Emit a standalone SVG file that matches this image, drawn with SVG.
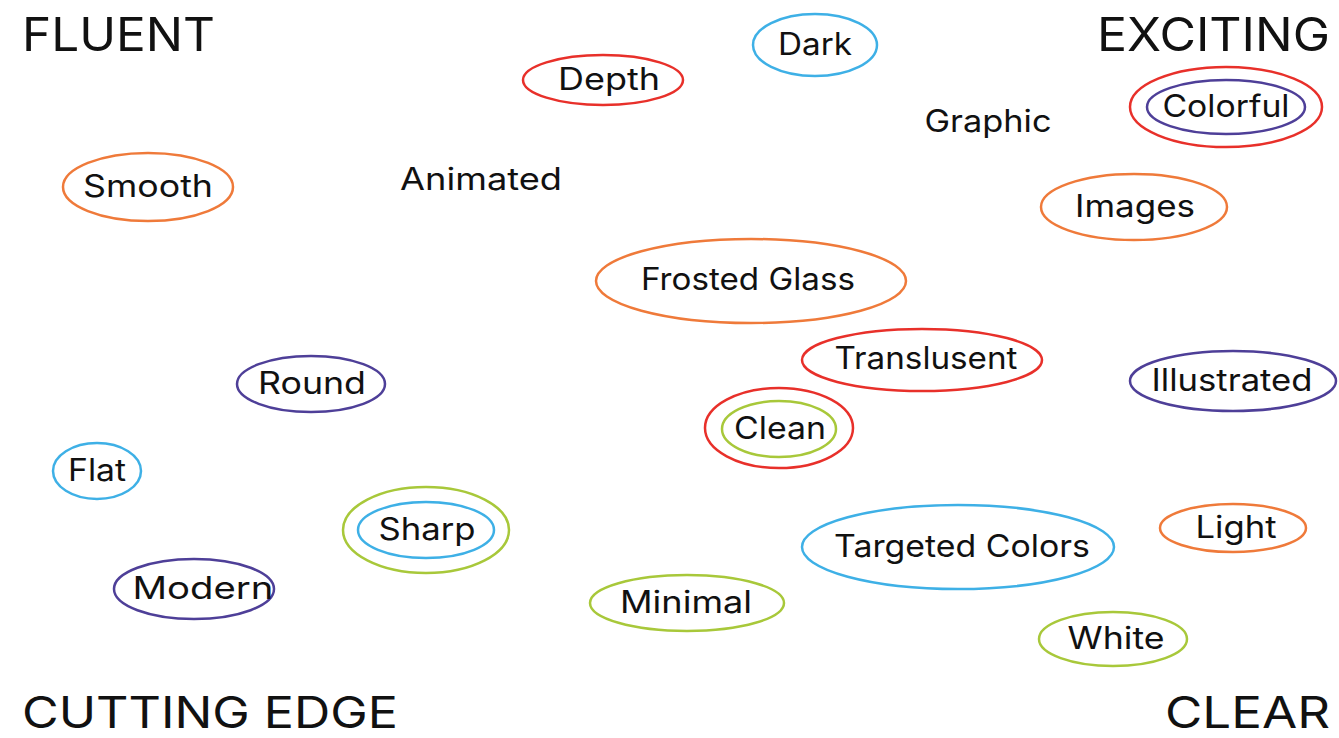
<svg xmlns="http://www.w3.org/2000/svg" width="1339" height="738" viewBox="0 0 1339 738">
<style>
text{font-family:Inter,"DejaVu Sans",sans-serif;fill:#111;}
.l{font-size:31px;text-anchor:middle;}
.c{font-size:47px;}
.cb{font-size:44px;}
ellipse{fill:none;stroke-width:2.5;}
.r{stroke:#e8302a;}.b{stroke:#3eb0e6;}.o{stroke:#ef7a3a;}.p{stroke:#4e3f98;}.g{stroke:#a8c83a;}
</style>
<rect width="1339" height="738" fill="#fff"/>
<g id="corners">
<text class="c" x="22" y="51" textLength="193" lengthAdjust="spacingAndGlyphs">FLUENT</text>
<text class="c" x="1097" y="51" textLength="233" lengthAdjust="spacingAndGlyphs">EXCITING</text>
<text class="cb" x="22" y="728" textLength="376" lengthAdjust="spacingAndGlyphs">CUTTING EDGE</text>
<text class="cb" x="1165" y="728" textLength="165" lengthAdjust="spacingAndGlyphs">CLEAR</text>
</g>
<g id="connectors"></g>
<g id="dark"><ellipse class="b" cx="815" cy="45" rx="62" ry="31"/><text class="l" x="815" y="55" textLength="74" lengthAdjust="spacingAndGlyphs">Dark</text></g>
<g id="depth"><ellipse class="r" cx="603" cy="80" rx="80" ry="25"/><text class="l" x="609" y="90" textLength="102" lengthAdjust="spacingAndGlyphs">Depth</text></g>
<g id="colorful"><ellipse class="r" cx="1226" cy="107" rx="96" ry="40"/><ellipse class="p" cx="1226" cy="107" rx="79" ry="27"/><text class="l" x="1226" y="117" textLength="127" lengthAdjust="spacingAndGlyphs">Colorful</text></g>
<g id="graphic"><text class="l" x="988" y="132" textLength="127" lengthAdjust="spacingAndGlyphs">Graphic</text></g>
<g id="smooth"><ellipse class="o" cx="148" cy="187" rx="85" ry="34"/><text class="l" x="148" y="197" textLength="130" lengthAdjust="spacingAndGlyphs">Smooth</text></g>
<g id="animated"><text class="l" x="481" y="190" textLength="162" lengthAdjust="spacingAndGlyphs">Animated</text></g>
<g id="images"><ellipse class="o" cx="1134" cy="207" rx="93" ry="33"/><text class="l" x="1135" y="217" textLength="120" lengthAdjust="spacingAndGlyphs">Images</text></g>
<g id="frosted"><ellipse class="o" cx="751" cy="281" rx="155" ry="42"/><text class="l" x="748" y="290" textLength="214" lengthAdjust="spacingAndGlyphs">Frosted Glass</text></g>
<g id="translusent"><ellipse class="r" cx="922" cy="360" rx="120" ry="31"/><text class="l" x="926" y="369" textLength="183" lengthAdjust="spacingAndGlyphs">Translusent</text></g>
<g id="round"><ellipse class="p" cx="311" cy="384" rx="74" ry="28"/><text class="l" x="312" y="394" textLength="108" lengthAdjust="spacingAndGlyphs">Round</text></g>
<g id="illustrated"><ellipse class="p" cx="1233" cy="381" rx="103" ry="30"/><text class="l" x="1232" y="391" textLength="161" lengthAdjust="spacingAndGlyphs">Illustrated</text></g>
<g id="clean"><ellipse class="r" cx="779" cy="428" rx="74" ry="40"/><ellipse class="g" cx="779" cy="429" rx="57" ry="28"/><text class="l" x="780" y="439" textLength="92" lengthAdjust="spacingAndGlyphs">Clean</text></g>
<g id="flat"><ellipse class="b" cx="97" cy="471" rx="44" ry="28"/><text class="l" x="97" y="481" textLength="58" lengthAdjust="spacingAndGlyphs">Flat</text></g>
<g id="sharp"><ellipse class="g" cx="426" cy="530" rx="83" ry="43"/><ellipse class="b" cx="426" cy="530" rx="68" ry="28"/><text class="l" x="427" y="540" textLength="97" lengthAdjust="spacingAndGlyphs">Sharp</text></g>
<g id="targeted"><ellipse class="b" cx="958" cy="547" rx="156" ry="42"/><text class="l" x="962" y="557" textLength="256" lengthAdjust="spacingAndGlyphs">Targeted Colors</text></g>
<g id="light"><ellipse class="o" cx="1233" cy="528" rx="73" ry="24"/><text class="l" x="1236" y="538" textLength="81" lengthAdjust="spacingAndGlyphs">Light</text></g>
<g id="modern"><ellipse class="p" cx="194" cy="589" rx="80" ry="30"/><text class="l" x="203" y="599" textLength="141" lengthAdjust="spacingAndGlyphs">Modern</text></g>
<g id="minimal"><ellipse class="g" cx="687" cy="603" rx="97" ry="28"/><text class="l" x="686" y="613" textLength="132" lengthAdjust="spacingAndGlyphs">Minimal</text></g>
<g id="white"><ellipse class="g" cx="1113" cy="639" rx="74" ry="27"/><text class="l" x="1116" y="649" textLength="97" lengthAdjust="spacingAndGlyphs">White</text></g>
</svg>
